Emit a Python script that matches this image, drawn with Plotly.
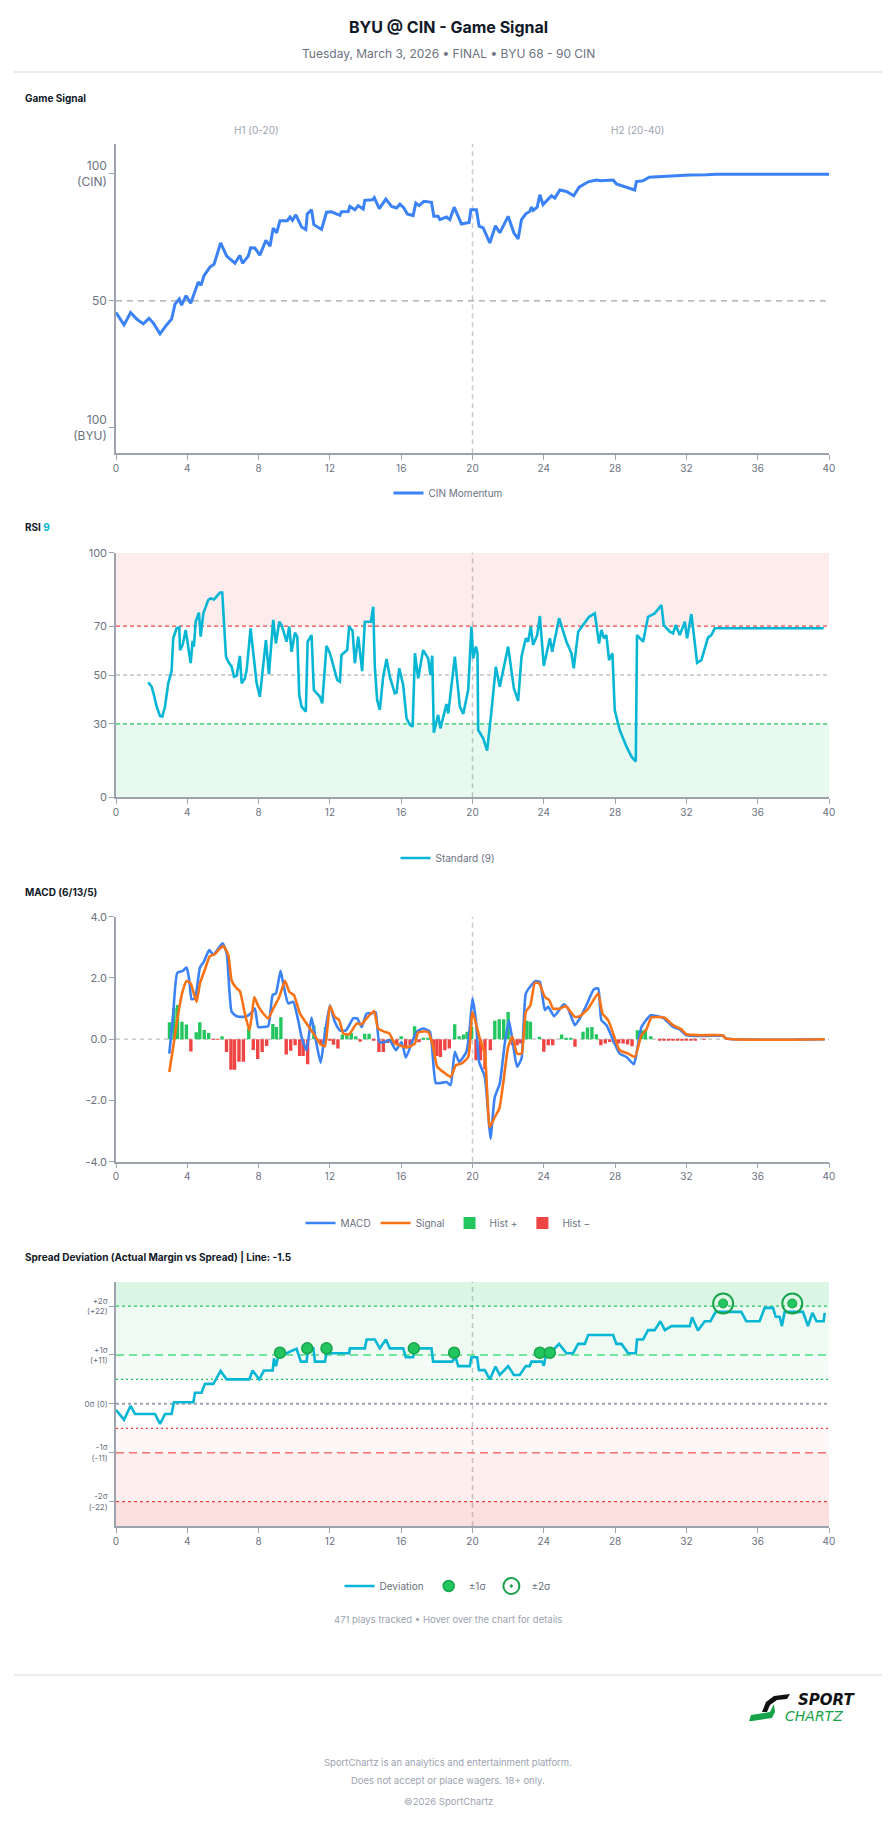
import plotly.graph_objects as go

# ---------------- data ----------------
game_x = [0, 0.45, 0.82, 1.16, 1.53, 1.85, 2.09, 2.47, 2.84, 3.12,
          3.31, 3.55, 3.68, 3.93, 4.19, 4.37, 4.62, 4.77, 4.93, 5.27,
          5.5, 5.87, 6.21, 6.67, 6.95, 7.1, 7.42, 7.55, 7.79, 8.07,
          8.41, 8.64, 8.82, 9.01, 9.2, 9.61, 9.76, 9.9, 10.09, 10.41,
          10.65, 10.73, 10.97, 11.1, 11.53, 11.81, 12.09, 12.56, 12.65, 13.03,
          13.12, 13.4, 13.59, 13.87, 13.96, 14.39, 14.49, 14.77, 15.14, 15.46,
          15.74, 15.93, 16.15, 16.34, 16.67, 16.82, 17.01, 17.27, 17.7, 17.83,
          18.07, 18.17, 18.54, 18.73, 18.97, 19.38, 19.81, 19.91, 20.22, 20.37,
          20.6, 20.97, 21.29, 21.53, 22.0, 22.32, 22.56, 22.75, 22.99, 23.21,
          23.31, 23.4, 23.63, 23.78, 23.96, 24.43, 24.62, 24.9, 25.27, 25.68,
          25.98, 26.49, 26.95, 27.2, 27.89, 28.07, 28.64, 29.1, 29.2, 29.57,
          29.91, 30.5, 31.25, 32.19, 33.12, 33.68, 40]
game_v = [45.4, 40.5, 45.4, 42.8, 40.9, 43.1, 41.3, 37, 40.5, 42.8,
          48.7, 50.7, 48.3, 52, 49, 52.3, 57.4, 56.1, 59.8, 63.3,
          64.4, 72.8, 67.6, 64.8, 67.9, 64.8, 67.6, 70.9, 70.8, 68,
          73.8, 71.5, 78.7, 76.8, 81.6, 81.6, 83, 81.7, 83.9, 79.1,
          78.1, 84.2, 85.9, 80, 78.1, 84.9, 85.1, 83.7, 85.1, 85.2,
          87.2, 85.9, 87.5, 86.2, 89.6, 89.8, 90.7, 86.3, 90.1, 87.2,
          86.6, 88.1, 86.6, 84.2, 83.6, 88.5, 87.5, 89.2, 88.8, 83.3,
          83.3, 82, 83, 82, 86.9, 80.3, 80.9, 85.9, 85.9, 79.4,
          78.7, 72.8, 79.6, 76.8, 83.3, 76.8, 74.4, 82, 84.3, 85.2,
          86.9, 85.6, 86.9, 91.8, 87.9, 91.4, 90.5, 93.7, 93.1, 91.4,
          94.8, 96.9, 97.6, 97.3, 97.6, 96.1, 94.6, 93.7, 97, 97.3,
          98.7, 99, 99.3, 99.6, 99.7, 99.9, 99.9]

rsi_x = [1.81, 2.0, 2.13, 2.28, 2.47, 2.6, 2.75, 2.84, 2.93, 3.12,
         3.21, 3.4, 3.55, 3.59, 3.74, 3.91, 4.06, 4.19, 4.3, 4.37,
         4.47, 4.65, 4.75, 4.9, 5.18, 5.31, 5.5, 5.83, 5.96, 6.17,
         6.3, 6.49, 6.62, 6.77, 6.95, 7.05, 7.23, 7.33, 7.55, 7.7,
         7.89, 8.07, 8.26, 8.41, 8.58, 8.67, 8.82, 8.97, 9.16, 9.29,
         9.57, 9.72, 9.85, 10.04, 10.17, 10.28, 10.41, 10.65, 10.75, 10.97,
         11.1, 11.44, 11.57, 11.66, 11.81, 12.0, 12.19, 12.41, 12.56, 12.65,
         12.97, 13.08, 13.27, 13.4, 13.59, 13.81, 13.96, 14.3, 14.43, 14.52,
         14.65, 14.8, 14.99, 15.18, 15.36, 15.64, 15.74, 15.89, 16.11, 16.3,
         16.49, 16.64, 16.77, 16.95, 17.23, 17.51, 17.64, 17.74, 17.83, 18.07,
         18.2, 18.54, 18.64, 19.01, 19.29, 19.48, 19.76, 19.94, 20.04, 20.19,
         20.28, 20.32, 20.6, 20.82, 21.07, 21.31, 21.53, 22.0, 22.32, 22.56,
         22.75, 22.99, 23.12, 23.27, 23.4, 23.63, 23.78, 24.0, 24.34, 24.47,
         24.86, 25.27, 25.55, 25.68, 25.93, 26.54, 26.86, 26.99, 27.1, 27.23,
         27.38, 27.51, 27.66, 27.85, 27.98, 28.26, 28.64, 28.92, 29.16, 29.23,
         29.57, 29.85, 30.22, 30.6, 30.73, 31.07, 31.25, 31.4, 31.63, 31.91,
         32.04, 32.28, 32.6, 32.84, 33.21, 33.4, 33.59, 39.7]
rsi_v = [47, 45.2, 41.8, 37.1, 33.2, 33, 37.1, 43.2, 46.6, 51.6,
         65, 69.1, 69.5, 60.2, 62.3, 68.4, 60.9, 54.8, 64, 61.6,
         71.8, 75.5, 65.7, 75.2, 80.7, 81.3, 80.9, 83.7, 83.7, 57.5,
         55.4, 53.4, 49.3, 49.7, 57.8, 46.6, 48.6, 52, 69.1, 58.2,
         46.6, 41.1, 53.4, 64.3, 50.3, 57.5, 72.5, 62.9, 71.8, 70.4,
         63.6, 69.8, 59.5, 67.3, 65.7, 41.8, 37.1, 35, 63.6, 66.3,
         43.9, 41.1, 38.4, 47.3, 61.9, 58.9, 54.1, 48, 47.3, 58.2,
         60.2, 69.8, 68.1, 54.8, 65.7, 51.6, 71.8, 71.8, 77.9, 53.4,
         39.8, 35.7, 49.3, 56.5, 49.3, 42.5, 42.8, 52.7, 45.9, 32.3,
         29.6, 28.9, 58.9, 48.6, 60.2, 56.8, 50, 57.9, 26.4, 33.7,
         28.2, 38.1, 34.3, 57.5, 37.1, 34.1, 43.9, 69.8, 56.8, 61.6,
         58.9, 27.5, 24.1, 19.1, 35.7, 53.4, 45.2, 61.6, 44.6, 39.4,
         57.5, 65, 63.6, 69.8, 62.3, 66.3, 74.1, 53.7, 65, 59.5,
         73.2, 63.6, 58.9, 52.7, 67.7, 73.8, 75.2, 68.4, 62.9, 68.4,
         65, 66.3, 56.1, 58.9, 35.7, 27.5, 20.7, 16.6, 14.6, 66.3,
         63.6, 73.8, 75.2, 78.6, 70.4, 67.7, 67, 70.4, 66.3, 71.8,
         65, 74.9, 55, 56.1, 65.3, 66.3, 69.1, 69.1]

macd_x = [2.99, 3.21, 3.44, 3.74, 3.96, 4.11, 4.24, 4.43, 4.71, 4.93,
          5.23, 5.46, 5.68, 5.98, 6.21, 6.49, 6.77, 7.05, 7.33, 7.55,
          7.79, 7.98, 8.26, 8.54, 8.79, 8.97, 9.23, 9.38, 9.66, 9.94,
          10.22, 10.41, 10.69, 10.97, 11.21, 11.48, 11.72, 12.0, 12.24, 12.56,
          12.9, 13.31, 13.53, 13.78, 14.06, 14.34, 14.56, 14.77, 15.08, 15.36,
          15.7, 16.02, 16.26, 16.58, 16.86, 17.23, 17.61, 17.94, 18.21, 18.54,
          18.77, 19.01, 19.25, 19.66, 19.85, 20.0, 20.19, 20.37, 20.69, 20.88,
          21.01, 21.25, 21.53, 21.81, 22.04, 22.24, 22.5, 22.75, 22.99, 23.31,
          23.55, 23.78, 24.06, 24.24, 24.58, 25.12, 25.36, 25.74, 26.02, 26.39,
          26.8, 27.05, 27.23, 27.51, 27.89, 28.26, 28.64, 29.05, 29.2, 29.48,
          30.0, 30.69, 31.25, 31.63, 32.0, 33.12, 34.06, 34.24, 39.76]
macd_v = [-0.47, 0.84, 2.17, 2.23, 2.34, 1.93, 1.31, 1.33, 2.34, 2.53,
          2.91, 2.75, 2.91, 3.13, 2.8, 0.89, 0.75, 0.73, 0.75, 0.84,
          1.0, 0.4, 0.4, 0.43, 1.44, 1.49, 2.23, 1.82, 1.17, 1.22,
          0.62, 0.08, -0.36, 0.71, -0.03, -0.77, 0.19, 1.11, 0.62, 0.29,
          0.29, 0.68, 0.68, 0.4, 0.84, 0.84, 0.89, -0.09, -0.09, -0.03,
          -0.36, -0.09, -0.6, -0.14, 0.24, 0.35, 0.24, -1.43, -1.43, -1.4,
          -1.5, -0.41, -0.74, -0.41, 0.4, 1.33, 0.62, -0.74, -1.23, -2.43,
          -3.25, -1.89, -1.45, -0.14, 0.62, -0.03, -0.9, -0.63, 1.49, 1.77,
          1.9, 1.87, 0.95, 1.06, 0.75, 1.14, 1.0, 0.46, 0.68, 1.11,
          1.62, 1.66, 0.62, 0.46, -0.03, -0.47, -0.58, -0.82, -0.47, 0.4,
          0.78, 0.7, 0.4, 0.32, 0.13, 0.11, 0.11, 0.02, 0]

signal_x = [2.99, 3.21, 3.46, 3.74, 3.96, 4.19, 4.34, 4.52, 4.71, 4.99,
            5.27, 5.55, 5.74, 6.02, 6.3, 6.49, 6.77, 6.95, 7.23, 7.48,
            7.61, 7.76, 7.98, 8.26, 8.54, 8.82, 9.16, 9.48, 9.72, 9.98,
            10.32, 10.69, 11.07, 11.44, 11.72, 12.0, 12.28, 12.52, 12.75, 13.08,
            13.5, 13.78, 14.06, 14.47, 14.71, 15.08, 15.33, 15.64, 15.93, 16.17,
            16.45, 16.77, 16.95, 17.51, 17.79, 18.02, 18.36, 18.77, 19.07, 19.38,
            19.76, 20.0, 20.41, 20.69, 20.97, 21.25, 21.5, 21.72, 22.0, 22.24,
            22.5, 22.75, 22.99, 23.25, 23.5, 23.74, 24.06, 24.3, 24.52, 24.9,
            25.23, 25.74, 26.02, 26.49, 27.05, 27.29, 27.61, 27.89, 28.26, 28.73,
            29.1, 29.48, 29.76, 30.04, 30.78, 31.25, 31.72, 32.0, 32.75, 34.02,
            34.24, 39.76]
signal_v = [-1.07, -0.25, 0.73, 1.57, 1.9, 1.82, 1.55, 1.22, 1.82, 2.28,
            2.71, 2.78, 2.91, 3.04, 2.75, 1.91, 1.66, 1.57, 0.84, 0.29,
            0.73, 1.38, 1.08, 0.84, 0.68, 1.0, 1.38, 1.91, 1.55, 1.44,
            0.84, 0.51, 0.19, -0.14, -0.23, 1.08, 0.73, 0.62, 0.19, 0.16,
            0.51, 0.49, 0.68, 0.92, 0.35, 0.24, 0.19, -0.14, -0.2, -0.25,
            -0.25, -0.14, 0.22, 0.24, -0.25, -0.9, -1.07, -1.23, -0.85, -0.8,
            -0.58, 0.89, 0.02, -0.47, -2.87, -2.54, -2.27, -1.45, -0.25, 0.08,
            -0.47, -0.47, 0.89, 1.11, 1.84, 1.82, 1.38, 1.28, 1.0, 1.0,
            1.08, 0.73, 0.75, 1.0, 1.49, 0.84, 0.62, 0.19, -0.36, -0.47,
            -0.58, 0.13, 0.32, 0.71, 0.7, 0.46, 0.32, 0.16, 0.13, 0.13,
            0.02, 0]

hist_x = [3.0, 3.25, 3.45, 3.7, 3.95, 4.2, 4.5, 4.7, 4.95, 5.2,
          5.45, 5.7, 5.95, 6.2, 6.45, 6.65, 6.9, 7.15, 7.45, 7.7,
          7.95, 8.2, 8.45, 8.8, 9.0, 9.25, 9.55, 9.8, 10.05, 10.3,
          10.5, 10.75, 11.1, 11.5, 11.75, 12.0, 12.2, 12.45, 12.7, 12.95,
          13.2, 13.45, 13.7, 13.95, 14.2, 14.45, 14.75, 15.0, 15.25, 15.5,
          15.75, 16.0, 16.25, 16.5, 16.75, 17.0, 17.25, 17.5, 17.8, 18.0,
          18.2, 18.45, 18.7, 19.0, 19.25, 19.5, 19.7, 19.95, 20.2, 20.45,
          20.7, 21.0, 21.25, 21.5, 21.75, 22.0, 22.25, 22.5, 22.7, 23.05,
          23.25, 23.75, 24.0, 24.25, 24.5, 25.0, 25.25, 25.5, 25.75, 26.2,
          26.45, 26.7, 26.95, 27.2, 27.45, 27.7, 27.95, 28.2, 28.45, 28.7,
          28.95, 29.25, 29.5, 29.7, 30.0, 30.5, 30.75, 31.0, 31.25, 31.5,
          31.75, 32.0, 32.25, 32.5, 33.0]
hist_v = [0.55, 1.02, 1.12, 0.57, 0.48, -0.4, 0.23, 0.55, 0.3, 0.2,
          -0.01, -0.01, 0.1, -0.42, -1.0, -1.0, -0.74, -0.74, 0.35, -0.35,
          -0.65, -0.42, -0.22, 0.5, 0.4, 0.72, -0.5, -0.38, -0.2, -0.55,
          -0.55, -0.82, 0.45, -0.2, 0.4, -0.03, -0.18, -0.3, 0.15, 0.15,
          0.2, 0.1, -0.08, 0.18, 0.18, -0.03, -0.42, -0.42, -0.12, -0.1,
          -0.15, 0.1, -0.3, -0.2, 0.42, -0.1, 0.05, 0.05, -0.4, -0.55,
          -0.58, -0.36, -0.3, 0.49, 0.1, 0.15, 0.24, 0.4, -0.69, -0.69,
          -0.98, -0.36, 0.6, 0.65, 0.65, 0.89, -0.2, -0.2, -0.14, 0.6,
          0.57, 0.08, -0.41, -0.2, -0.2, 0.15, 0.04, 0.04, -0.25, 0.24,
          0.38, 0.4, 0.16, -0.2, -0.14, -0.09, -0.14, -0.14, -0.14, -0.17,
          -0.23, 0.29, 0.29, 0.32, 0.1, -0.02, -0.04, -0.04, -0.05, -0.05,
          -0.04, -0.03, -0.02, -0.02, -0.01]

dev_x = [0, 0.45, 0.82, 1.07, 2.19, 2.47, 2.75, 3.12, 3.25, 4.34,
         4.43, 4.8, 4.99, 5.46, 5.87, 6.21, 7.48, 7.66, 8.04, 8.3,
         8.79, 8.86, 8.97, 9.1, 9.2, 9.57, 10.13, 10.37, 10.69, 10.78,
         11.07, 11.16, 11.72, 11.81, 13.08, 13.12, 13.96, 14.06, 14.52, 14.8,
         15.14, 15.36, 16.11, 16.26, 16.67, 16.75, 17.7, 17.79, 18.86, 19.05,
         19.2, 19.85, 19.94, 20.26, 20.36, 20.69, 20.97, 21.29, 21.53, 22.0,
         22.32, 22.65, 22.99, 23.21, 23.31, 23.9, 24.0, 24.1, 24.34, 24.86,
         25.27, 25.64, 25.93, 26.3, 26.49, 27.89, 28.07, 28.36, 28.73, 29.16,
         29.23, 29.57, 29.85, 30.22, 30.54, 30.79, 31.16, 32.19, 32.32, 32.65,
         33.03, 33.35, 33.64, 35.08, 35.36, 36.11, 36.39, 36.86, 37.01, 37.23,
         37.36, 37.51, 38.54, 38.82, 39.07, 39.3, 39.7, 39.76]
dev_v = [-1.35, -3.6, -0.45, -2.3, -2.3, -4.5, -2.3, -2.3, 0.37, 0.37,
         2.5, 2.5, 4.5, 4.5, 7.4, 5.5, 5.5, 7.5, 5.5, 7.5,
         7.5, 10.25, 8.5, 10.6, 11.4, 11.4, 12.4, 9.5, 9.5, 12.5,
         12.5, 9.5, 9.5, 11.4, 11.4, 12.5, 12.5, 14.5, 14.5, 12.5,
         14.5, 12.5, 12.5, 10.5, 10.5, 12.5, 12.5, 9.5, 9.5, 10.5,
         8.5, 8.5, 10.5, 10.5, 7.6, 7.6, 5.5, 8.4, 6.5, 8.5,
         6.5, 6.5, 8.5, 8.5, 9.5, 9.5, 8.6, 10.6, 11.4, 13.5,
         11.4, 11.4, 13.5, 13.5, 15.5, 15.5, 13.5, 13.5, 11.4, 11.4,
         14.5, 14.5, 16.6, 16.6, 18.6, 16.6, 17.5, 17.5, 19.5, 16.5,
         18.6, 18.6, 20.7, 20.7, 18.6, 18.6, 21.6, 21.6, 19.6, 19.6,
         17.5, 20.7, 20.7, 17.5, 20.5, 18.6, 18.6, 20.5]

sig1_x = [9.2, 10.73, 11.81, 16.71, 18.97, 23.78, 24.34]
sig1_v = [11.5, 12.5, 12.5, 12.5, 11.5, 11.5, 11.5]
sig2_x = [34.06, 37.94]
sig2_v = [22.6, 22.6]

x_ticks = [0, 4, 8, 12, 16, 20, 24, 28, 32, 36, 40]
game_ticks = [0, 50, 100]
game_ticktext = ["100<br>(BYU)", "50", "100<br>(CIN)"]
rsi_ticks = [0, 30, 50, 70, 100]
macd_ticks = [-4, -2, 0, 2, 4]
macd_ticktext = ["-4.0", "-2.0", "0.0", "2.0", "4.0"]
sigma = 11
dev_ticks = [-22, -11, 0, 11, 22]
dev_ticktext = ["-2σ<br>(-22)", "-1σ<br>(-11)", "0σ (0)", "+1σ<br>(+11)", "+2σ<br>(+22)"]

# ---------------- layout helpers ----------------
W, H = 896, 1824
XL, XR = 116 / W, 829 / W
FONT = "Inter, 'Noto Sans', sans-serif"
AX = "#9ca3af"
TXT = "#6b7280"


def py(y):
    return 1 - y / H


def px(x):
    return x / W


def ydom(top, bot):
    return [1 - bot / H, 1 - top / H]


def xaxis_cfg(anchor):
    return dict(domain=[XL, XR], anchor=anchor, range=[0, 40], tickmode="array",
                tickvals=x_ticks, showline=True, linecolor=AX, linewidth=1.5,
                ticks="outside", ticklen=5, tickwidth=1, tickcolor=AX,
                tickfont=dict(size=10, color=TXT, family=FONT),
                showgrid=False, zeroline=False, automargin=False)


def yaxis_cfg(anchor, dom, rng, tv, tt, fs):
    return dict(domain=dom, anchor=anchor, range=rng, tickmode="array",
                tickvals=tv, ticktext=tt, showline=True, linecolor=AX, linewidth=1.5,
                ticks="outside", ticklen=5, tickwidth=1, tickcolor=AX,
                tickfont=dict(size=fs, color=TXT, family=FONT),
                showgrid=False, zeroline=False, automargin=False)


fig = go.Figure()

# ---- Game signal ----
fig.add_trace(go.Scatter(x=game_x, y=game_v, mode="lines", name="CIN Momentum",
                         line=dict(color="#3b82f6", width=3),
                         xaxis="x", yaxis="y", legend="legend"))

# ---- RSI ----
fig.add_trace(go.Scatter(x=rsi_x, y=rsi_v, mode="lines", name="Standard (9)",
                         line=dict(color="#06b6d4", width=2.6),
                         xaxis="x2", yaxis="y2", legend="legend2"))

# ---- MACD ----
hp_x = [x for x, v in zip(hist_x, hist_v) if v >= 0]
hp_v = [v for v in hist_v if v >= 0]
hn_x = [x for x, v in zip(hist_x, hist_v) if v < 0]
hn_v = [v for v in hist_v if v < 0]
fig.add_trace(go.Bar(x=hp_x, y=hp_v, name="Hist +", marker=dict(color="#22c55e", line=dict(width=0)),
                     width=0.19, xaxis="x3", yaxis="y3", legend="legend3", legendrank=3))
fig.add_trace(go.Bar(x=hn_x, y=hn_v, name="Hist −", marker=dict(color="#ef4444", line=dict(width=0)),
                     width=0.19, xaxis="x3", yaxis="y3", legend="legend3", legendrank=4))
fig.add_trace(go.Scatter(x=macd_x, y=macd_v, mode="lines", name="MACD",
                         line=dict(color="#3b82f6", width=2.6, shape="spline", smoothing=0.5),
                         xaxis="x3", yaxis="y3", legend="legend3", legendrank=1))
fig.add_trace(go.Scatter(x=signal_x, y=signal_v, mode="lines", name="Signal",
                         line=dict(color="#f97316", width=2.6, shape="spline", smoothing=0.5),
                         xaxis="x3", yaxis="y3", legend="legend3", legendrank=2))

# ---- Spread deviation ----
fig.add_trace(go.Scatter(x=dev_x, y=dev_v, mode="lines", name="Deviation",
                         line=dict(color="#06b6d4", width=2.6),
                         xaxis="x4", yaxis="y4", legend="legend4"))
fig.add_trace(go.Scatter(x=sig1_x, y=sig1_v, mode="markers", name="±1σ",
                         marker=dict(color="#22c55e", size=11, line=dict(color="#16a34a", width=1.5)),
                         xaxis="x4", yaxis="y4", legend="legend4"))
fig.add_trace(go.Scatter(x=sig2_x, y=sig2_v, mode="markers", name="±2σ",
                         marker=dict(color="#16a34a", size=20, symbol="circle-open-dot",
                                     line=dict(color="#16a34a", width=2)),
                         xaxis="x4", yaxis="y4", legend="legend4"))
fig.add_trace(go.Scatter(x=sig2_x, y=sig2_v, mode="markers", showlegend=False,
                         marker=dict(color="#22c55e", size=9, line=dict(color="#16a34a", width=1)),
                         xaxis="x4", yaxis="y4", legend="legend4"))

# ---------------- shapes ----------------
shapes = []


def vline(xa, ya):
    return dict(type="line", xref=xa, yref=ya + " domain", x0=20, x1=20, y0=0, y1=1,
                line=dict(color="#c8c8c8", width=1.5, dash="5px,4px"), layer="below")


def hline(xa, ya, y, color, dash, width=1.2):
    return dict(type="line", xref=xa, yref=ya, x0=0, x1=40, y0=y, y1=y,
                line=dict(color=color, width=width, dash=dash), layer="below")


def band(xa, ya, y0, y1, color):
    return dict(type="rect", xref=xa, yref=ya, x0=0, x1=40, y0=y0, y1=y1,
                fillcolor=color, line=dict(width=0), layer="below")


# game
shapes.append(hline("x", "y", 50, "#a3a3a3", "6px,5px", 1.2))
shapes.append(vline("x", "y"))
# rsi
shapes.append(band("x2", "y2", 70, 100, "rgba(239,68,68,0.10)"))
shapes.append(band("x2", "y2", 0, 30, "rgba(34,197,94,0.10)"))
shapes.append(hline("x2", "y2", 70, "#ef4444", "4px,3px"))
shapes.append(hline("x2", "y2", 50, "#a3a3a3", "4px,3px"))
shapes.append(hline("x2", "y2", 30, "#22c55e", "4px,3px"))
shapes.append(vline("x2", "y2"))
# macd
shapes.append(hline("x3", "y3", 0, "#bdbdbd", "4px,4px", 1.2))
shapes.append(vline("x3", "y3"))
# spread
shapes.append(band("x4", "y4", 2 * sigma, 2.5 * sigma, "rgba(34,197,94,0.16)"))
shapes.append(band("x4", "y4", sigma, 2 * sigma, "rgba(34,197,94,0.08)"))
shapes.append(band("x4", "y4", 0.5 * sigma, sigma, "rgba(34,197,94,0.045)"))
shapes.append(band("x4", "y4", -sigma, -0.5 * sigma, "rgba(239,68,68,0.045)"))
shapes.append(band("x4", "y4", -2 * sigma, -sigma, "rgba(239,68,68,0.09)"))
shapes.append(band("x4", "y4", -2.5 * sigma, -2 * sigma, "rgba(239,68,68,0.17)"))
shapes.append(hline("x4", "y4", 2 * sigma, "#22c55e", "3px,3px"))
shapes.append(hline("x4", "y4", sigma, "#4ade80", "8px,5px", 1.4))
shapes.append(hline("x4", "y4", 0.5 * sigma, "#22c55e", "2px,3px"))
shapes.append(hline("x4", "y4", 0, "#9ca3af", "3px,3px", 2))
shapes.append(hline("x4", "y4", -0.5 * sigma, "#ef4444", "2px,3px"))
shapes.append(hline("x4", "y4", -sigma, "#f87171", "8px,5px", 1.4))
shapes.append(hline("x4", "y4", -2 * sigma, "#ef4444", "3px,3px"))
shapes.append(vline("x4", "y4"))

# page separators
shapes.append(dict(type="line", xref="paper", yref="paper", x0=px(14), x1=px(882),
                   y0=py(72), y1=py(72), line=dict(color="#d1d5db", width=1)))
shapes.append(dict(type="line", xref="paper", yref="paper", x0=px(14), x1=px(882),
                   y0=py(1675), y1=py(1675), line=dict(color="#e5e7eb", width=1.5)))


# logo swoosh
def ppath(pts):
    s = "M " + " L ".join(f"{px(a):.5f},{py(b):.5f}" for a, b in pts) + " Z"
    return s


shapes.append(dict(type="path", xref="paper", yref="paper",
                   path=ppath([(762, 1712), (766, 1702), (774, 1696), (790, 1694), (787, 1699),
                               (777, 1700), (770, 1705), (767, 1712)]),
                   fillcolor="#111111", line=dict(width=0)))
shapes.append(dict(type="path", xref="paper", yref="paper",
                   path=ppath([(749, 1721), (751, 1715), (770, 1712), (774, 1704), (775, 1712),
                               (772, 1718), (752, 1721)]),
                   fillcolor="#16a34a", line=dict(width=0)))

# ---------------- annotations ----------------
ann = []


def text(x, y, t, size, color, xanchor="center", bold=False, family=FONT):
    ann.append(dict(xref="paper", yref="paper", x=px(x), y=py(y), text=(f"<b>{t}</b>" if bold else t),
                    showarrow=False, xanchor=xanchor, yanchor="middle",
                    font=dict(size=size, color=color, family=family)))


text(448, 27, "BYU @ CIN - Game Signal", 16, "#111827", bold=True)
text(448, 53, "Tuesday, March 3, 2026 • FINAL • BYU 68 - 90 CIN", 12, "#6b7280")
text(23, 99, "Game Signal", 10, "#111827", xanchor="left", bold=True)
text(256, 130, "H1 (0-20)", 10, "#9ca3af")
text(637, 130, "H2 (20-40)", 10, "#9ca3af")
text(23, 527, "RSI <span style='color:#06b6d4'>9</span>", 10, "#111827", xanchor="left", bold=True)
text(23, 892, "MACD (6/13/5)", 10, "#111827", xanchor="left", bold=True)
text(23, 1257, "Spread Deviation (Actual Margin vs Spread) | Line: -1.5", 10, "#111827",
     xanchor="left", bold=True)
text(448, 1619, "471 plays tracked • Hover over the chart for details", 9.5, "#9ca3af")
text(448, 1762, "SportChartz is an analytics and entertainment platform.", 9.5, "#9ca3af")
text(448, 1780, "Does not accept or place wagers. 18+ only.", 9.5, "#9ca3af")
text(448, 1801, "©2026 SportChartz", 9.5, "#9ca3af")
text(826, 1700, "<b><i>SPORT</i></b>", 15, "#111111", family="DejaVu Sans")
text(814, 1716, "<i>CHARTZ</i>", 14, "#16a34a", family="DejaVu Sans")


def legend_cfg(y):
    return dict(orientation="h", x=0.5, xanchor="center", y=py(y), yanchor="middle",
                font=dict(size=10, color=TXT, family=FONT), bgcolor="rgba(0,0,0,0)",
                itemwidth=30, traceorder="normal")


fig.update_layout(
    width=W, height=H, margin=dict(l=0, r=0, t=0, b=0),
    paper_bgcolor="white", plot_bgcolor="white",
    font=dict(family=FONT, color=TXT),
    showlegend=True, barmode="overlay", hovermode="x",
    xaxis=xaxis_cfg("y"),
    yaxis=yaxis_cfg("x", ydom(144, 453.3), [-10.1, 111.8], game_ticks, game_ticktext, 12),
    xaxis2=xaxis_cfg("y2"),
    yaxis2=yaxis_cfg("x2", ydom(552.7, 797.3), [0, 100], rsi_ticks, [str(v) for v in rsi_ticks], 11),
    xaxis3=xaxis_cfg("y3"),
    yaxis3=yaxis_cfg("x3", ydom(916.7, 1161.7), [-4, 4], macd_ticks, macd_ticktext, 11),
    xaxis4=xaxis_cfg("y4"),
    yaxis4=yaxis_cfg("x4", ydom(1281.7, 1526), [-2.5 * sigma, 2.5 * sigma], dev_ticks, dev_ticktext, 8),
    legend=legend_cfg(493),
    legend2=legend_cfg(858),
    legend3=legend_cfg(1223),
    legend4=legend_cfg(1586),
    shapes=shapes,
    annotations=ann,
)

fig.write_html("out.html")
